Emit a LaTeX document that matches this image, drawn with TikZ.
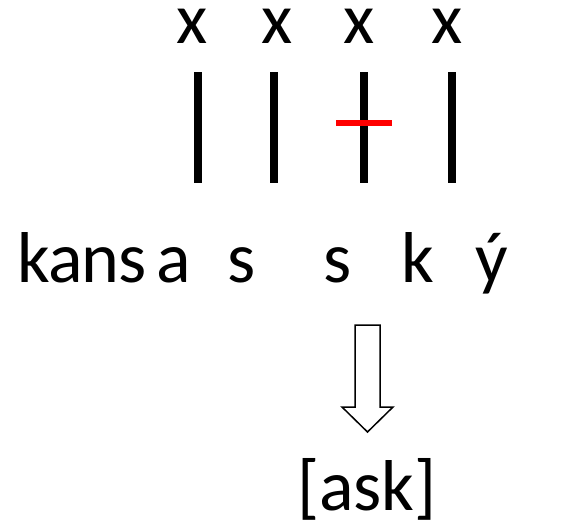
\documentclass[tikz,border=0pt]{standalone}
\usepackage{fontspec}
\setmainfont{Carlito}
\usetikzlibrary{positioning}

\tikzset{
  seg/.style={font=\fontsize{72}{86}\selectfont, inner sep=0pt, anchor=base},
  assoc/.style={line width=8pt},
  delink/.style={red, line width=6pt},
  hollow/.style={draw, line width=1.5pt, fill=white}
}

\begin{document}
\begin{tikzpicture}[x=1pt, y=-1pt]
  \useasboundingbox (0,0) rectangle (584,530);
  % skeleton slots and association lines
  \foreach \i/\tx/\lx in {1/192/198, 2/277/274, 3/359/364, 4/447/452} {
    \node[seg] (x\i) at (\tx, 43) {x};
    \coordinate (t\i) at (\lx, 72);
    \coordinate (b\i) at (\lx, 183);
    \draw[assoc] (t\i) -- (b\i);
  }
  \coordinate (cutl) at (336, 123);
  \coordinate (cutr) at (392, 123);
  \draw[delink] (cutl) -- (cutr);

  % melody
  \node[seg] (kans) at (82, 282) {k\kern-1.5pt a\kern-1.5pt n\kern-1.5pt s};
  \foreach \n/\c/\px in {a/a/174, s1/s/242, s2/s/338, k/k/418, y/ý/492} {
    \node[seg] (\n) at (\px, 282) {\c};
  }

  % output
  \coordinate (arr) at (367.5, 325);
  \draw[hollow] (arr) ++(-12.5,0) -- ++(25,0) -- ++(0,82) -- ++(13,0)
    -- ++(-25.5,25) -- ++(-25.5,-25) -- ++(13,0) -- cycle;
  \node[seg] (out) at (367, 510) {[ask]};
\end{tikzpicture}
\end{document}
